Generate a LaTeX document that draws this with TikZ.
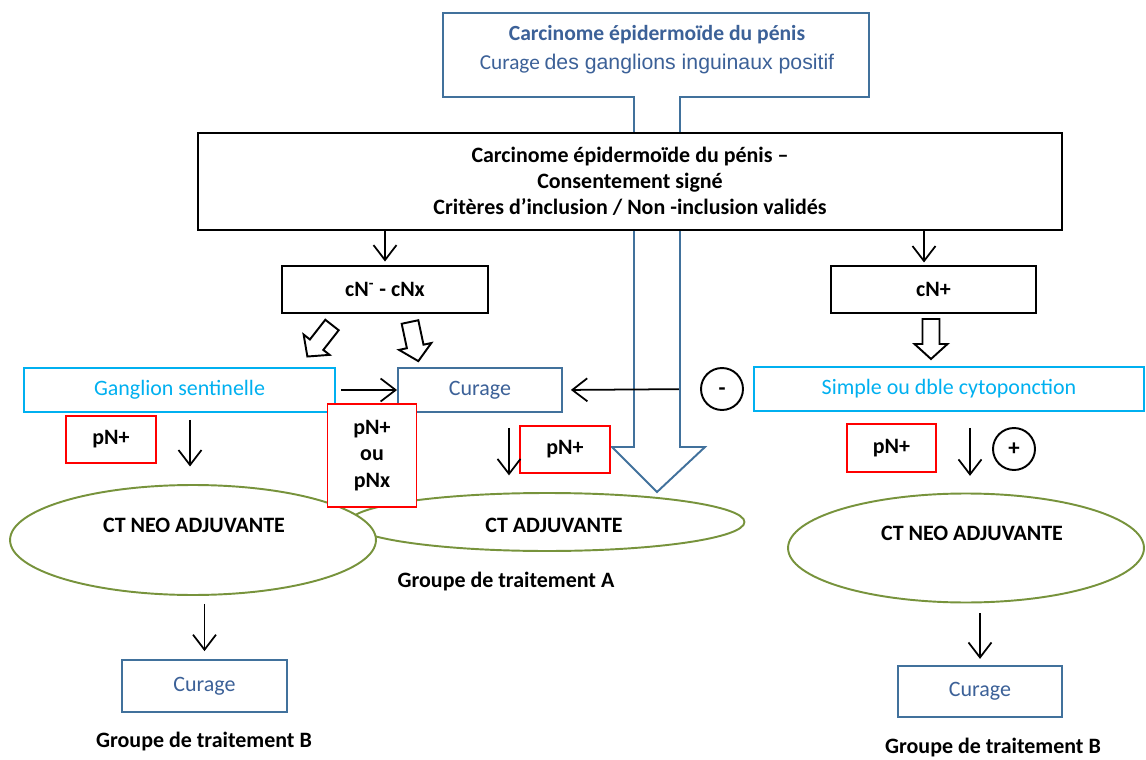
\documentclass[tikz,border=0pt]{standalone}
\usepackage{fontspec}
\setmainfont{Carlito}
\newfontfamily\arialfont{Liberation Sans}
\usetikzlibrary{arrows.meta,shapes.geometric}

\definecolor{boxblue}{RGB}{65,113,156}
\definecolor{txtblue}{RGB}{60,97,152}
\definecolor{skyline}{RGB}{0,176,240}
\definecolor{olivegreen}{RGB}{119,147,60}

\tikzset{
  every node/.style={font=\fontsize{12.5}{14.5}\selectfont},
  blackbox/.style={draw,line width=1.1pt,fill=white,font=\bfseries\fontsize{12.5}{14.7}\selectfont},
  bluebox/.style={draw=boxblue,line width=1.1pt,fill=white,text=txtblue},
  skybox/.style={draw=skyline,line width=1.1pt,fill=white,text=skyline},
  redbox/.style={draw=red,line width=1.1pt,fill=white,font=\bfseries\fontsize{12.5}{15}\selectfont,align=center},
  phase/.style={ellipse,draw=olivegreen,line width=1.1pt,fill=white},
  sign/.style={circle,draw,line width=1.1pt,minimum size=0.84cm,inner sep=0pt,font=\bfseries\fontsize{13}{14}\selectfont},
  boldtxt/.style={font=\bfseries\fontsize{12.5}{14}\selectfont},
  flow/.style={->,line width=1pt},
  hollow/.pic={\draw[line width=1.1pt,fill=white] (-8.5,0) -- (-8.5,25) -- (-16.5,25) -- (0,40) -- (16.5,25) -- (8.5,25) -- (8.5,0) -- cycle;}
}

\begin{document}
\begin{tikzpicture}[x=0.02cm,y=-0.02cm,>={Straight Barb[length=3mm,width=4.6mm]}]
\useasboundingbox (0,0) rectangle (1146,760);

% consigne et grande fleche bleue
\draw[boxblue,line width=1.1pt,fill=white] (443,13) -- (869,13) -- (869,97) -- (680,97) -- (680,447) -- (705,447)
  -- (657,492) -- (612,447) -- (634,447) -- (634,97) -- (443,97) -- cycle;
\node[text=txtblue,font=\bfseries\fontsize{12.3}{14}\selectfont] (cons1) at (657,35) {Carcinome épidermoïde du pénis};
\node[text=txtblue,font=\fontsize{12.1}{14}\selectfont] (cons2) at (657,64) {Curage {\arialfont des ganglions inguinaux positif}};

% inclusion
\node[blackbox,minimum width=17.28cm,minimum height=1.94cm,align=center] (main) at (630,181.5)
  {Carcinome épidermoïde du pénis –\\Consentement signé\\Critères d’inclusion / Non -inclusion validés};

\node[blackbox,minimum width=4.12cm,minimum height=0.94cm] (cnneg) at (385,289.5) {cN\textsuperscript{-} - cNx};
\node[blackbox,minimum width=4.1cm,minimum height=0.94cm] (cnpos) at (933.5,289.5) {cN+};
\coordinate (cp) at (924,266);

\draw[flow,shorten >=2pt] (main.south -| cnneg.north) -- (cnneg.north);
\draw[flow,shorten >=2pt] (main.south -| cp) -- (cp);

\pic[rotate=-38] at (332,325) {hollow};
\pic[rotate=12] at (410,322) {hollow};
\pic at (931,319) {hollow};

% geste ganglionnaire
\node[skybox,minimum width=6.22cm,minimum height=0.88cm] (gs) at (179.5,390) {Ganglion sentinelle};
\node[bluebox,minimum width=3.28cm,minimum height=0.88cm] (curA) at (480,390) {Curage};
\node[skybox,minimum width=7.8cm,minimum height=0.88cm] (cyto) at (949,389) {Simple ou dble cytoponction};
\node[sign] (minus) at (722,389) {\smash{\raisebox{-3.5pt}{-}}};
\node[sign] (plus) at (1014,449) {+};

\draw[flow,shorten <=3pt] (gs.east) -- (curA.west);
\draw[flow,shorten <=12pt,shorten >=4.5pt] (minus.west) -- (curA.east);

\node[redbox,minimum width=1.8cm,minimum height=0.94cm] (pnL) at (111,439.5) {pN+};
\node[redbox,minimum width=1.8cm,minimum height=0.94cm] (pnM) at (565,449.5) {pN+};
\node[redbox,minimum width=1.78cm,minimum height=0.96cm] (pnR) at (891.5,448) {pN+};

% traitements
\node[phase,minimum width=7.9cm,minimum height=1.16cm] (adjA) at (547,522) {};
\node[phase,minimum width=7.32cm,minimum height=2.2cm] (neoL) at (193,540) {};
\node[phase,minimum width=7.12cm,minimum height=2.18cm] (neoR) at (966,548) {};
\node[boldtxt] (neoLtxt) at (194,525) {CT NEO ADJUVANTE};
\node[boldtxt] (adjAtxt) at (554,525) {CT ADJUVANTE};
\node[boldtxt] (neoRtxt) at (972,533) {CT NEO ADJUVANTE};

\node[redbox,minimum width=1.78cm,minimum height=2.06cm] (pnx) at (372,455.5) {pN+\\ou\\pNx};

\coordinate (dL) at (190,0);
\coordinate (dM) at (509,0);
\coordinate (dR) at (970,0);
\draw[flow,shorten <=4pt,shorten >=10pt] (gs.south -| dL) -- (neoL.north -| dL);
\draw[flow,shorten <=8.5pt,shorten >=9.5pt] (curA.south -| dM) -- (adjA.north -| dM);
\draw[flow,shorten <=9pt,shorten >=9.5pt] (cyto.south -| dR) -- (neoR.north -| dR);

\node[bluebox,minimum width=3.3cm,minimum height=1.04cm] (curB1) at (204.5,686) {Curage};
\node[bluebox,minimum width=3.28cm,minimum height=1.02cm] (curB2) at (980,691.5) {Curage};
\draw[flow,shorten <=4.5pt,shorten >=4.5pt] (neoL.south -| curB1.north) -- (curB1.north);
\draw[flow,shorten <=5.5pt,shorten >=3.5pt] (neoR.south -| curB2.north) -- (curB2.north);

\node[boldtxt] (grpA) at (506,582) {Groupe de traitement A};
\node[boldtxt] (grpB1) at (204,742) {Groupe de traitement B};
\node[boldtxt] (grpB2) at (993,748) {Groupe de traitement B};
\end{tikzpicture}
\end{document}
